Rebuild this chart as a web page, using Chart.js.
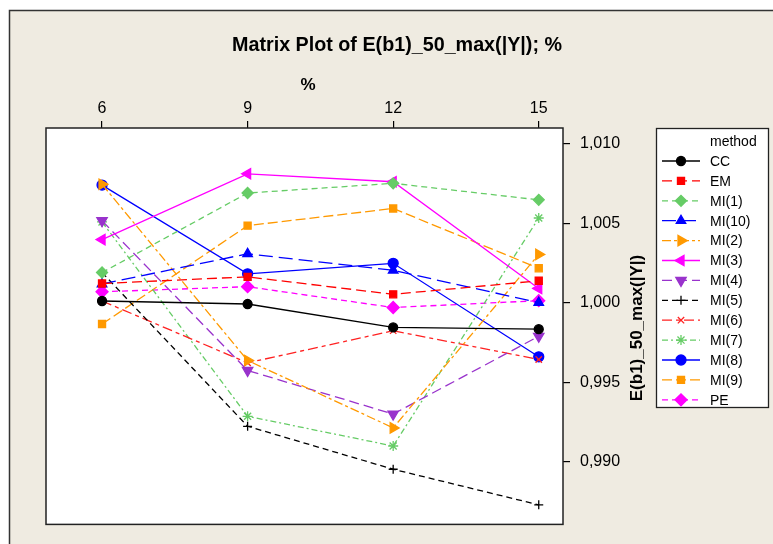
<!DOCTYPE html>
<html>
<head>
<meta charset="utf-8">
<script src="https://cdn.jsdelivr.net/npm/chart.js@4.4.1/dist/chart.umd.min.js"></script>
<style>
  body { margin: 0; background: #fff; }
  #wrap { width: 773px; height: 544px; }
</style>
</head>
<body>
<div id="wrap"><canvas id="chart" width="773" height="544"></canvas></div>
<script>
// x categories (%), y ticks and one series per method
const percents = [6, 9, 12, 15];
const yTicks = [0.990, 0.995, 1.000, 1.005, 1.010];
const methods = ['CC', 'EM', 'MI(1)', 'MI(10)', 'MI(2)', 'MI(3)', 'MI(4)', 'MI(5)', 'MI(6)', 'MI(7)', 'MI(8)', 'MI(9)', 'PE'];

const cc   = [1.00012, 0.99993, 0.99846, 0.99835];
const em   = [1.00122, 1.00164, 1.00054, 1.00139];
const mi1  = [1.00191, 1.00691, 1.00752, 1.00648];
const mi10 = [1.00119, 1.00309, 1.00205, 1.00002];
const mi2  = [1.00746, 0.99638, 0.99214, 1.00305];
const mi3  = [1.00398, 1.00812, 1.00762, 1.00091];
const mi4  = [1.00517, 0.99575, 0.99301, 0.99790];
const mi5  = [1.00191, 0.99224, 0.98954, 0.98730];
const mi6  = [1.00012, 0.99623, 0.99825, 0.99644];
const mi7  = [1.00509, 0.99287, 0.99100, 1.00534];
const mi8  = [1.00741, 1.00183, 1.00249, 0.99661];
const mi9  = [0.99867, 1.00486, 1.00594, 1.00218];
const pe   = [1.00070, 1.00102, 0.99971, 1.00014];

const series = [cc, em, mi1, mi10, mi2, mi3, mi4, mi5, mi6, mi7, mi8, mi9, pe];

// line / marker look for each method, same order as methods
const looks = [
  { color: '#000000', dash: [],            point: 'circle',   r: 4.5 },
  { color: '#FF0000', dash: [10, 5],       point: 'rect',     r: 5 },
  { color: '#66CC66', dash: [6, 4],        point: 'rectRot',  r: 5.5 },
  { color: '#0000FF', dash: [14, 6],       point: 'triangle', r: 5.5 },
  { color: '#FF9900', dash: [9, 3, 3, 3],  point: 'triangle', r: 6, rot: 90 },
  { color: '#FF00FF', dash: [],            point: 'triangle', r: 6, rot: -90 },
  { color: '#9933CC', dash: [10, 5],       point: 'triangle', r: 6, rot: 180 },
  { color: '#000000', dash: [6, 4],        point: 'cross',    r: 4.5 },
  { color: '#FF2222', dash: [10, 4, 4, 4], point: 'crossRot', r: 4.5 },
  { color: '#66CC66', dash: [6, 3, 2, 3],  point: 'star',     r: 5 },
  { color: '#0000FF', dash: [],            point: 'circle',   r: 5 },
  { color: '#FF9900', dash: [10, 4],       point: 'rect',     r: 5 },
  { color: '#FF00FF', dash: [6, 4],        point: 'rectRot',  r: 6 }
];

const FONT = "'Liberation Sans', Arial, Helvetica, sans-serif";

const datasets = methods.map((m, i) => ({
  label: m,
  data: series[i].map((v, j) => ({ x: percents[j], y: v })),
  borderColor: looks[i].color,
  backgroundColor: looks[i].color,
  borderWidth: 1.3,
  borderDash: looks[i].dash,
  pointStyle: looks[i].point,
  pointRadius: looks[i].r,
  pointRotation: looks[i].rot || 0,
  pointBorderWidth: 1.3,
  pointBackgroundColor: looks[i].color,
  pointBorderColor: looks[i].color,
  tension: 0
}));

// text squeezed to a given width if it runs wider
function fitText(ctx, text, x, y, maxW, angle) {
  const w = ctx.measureText(text).width;
  const sx = w > maxW ? maxW / w : 1;
  ctx.save();
  ctx.translate(x, y);
  if (angle) ctx.rotate(angle);
  ctx.scale(sx, 1);
  ctx.fillText(text, 0, 0);
  ctx.restore();
}

const framePlugin = {
  id: 'frame',
  beforeDraw(chart) {
    const { ctx, chartArea: a, width, height } = chart;
    ctx.save();
    ctx.fillStyle = '#ffffff';
    ctx.fillRect(0, 0, width, height);
    ctx.fillStyle = '#EFEBE1';
    ctx.fillRect(9, 10, width, height);
    ctx.strokeStyle = '#333333';
    ctx.lineWidth = 1.5;
    ctx.strokeRect(9.5, 10.5, width + 10, height + 10);
    ctx.fillStyle = '#ffffff';
    ctx.fillRect(a.left, a.top, a.right - a.left, a.bottom - a.top);
    ctx.restore();
  },
  afterDraw(chart) {
    const { ctx, chartArea: a } = chart;
    ctx.save();
    // plot box
    ctx.strokeStyle = '#222222';
    ctx.lineWidth = 1.5;
    ctx.strokeRect(a.left, a.top, a.right - a.left, a.bottom - a.top);

    // titles
    ctx.fillStyle = '#000';
    ctx.textAlign = 'center';
    ctx.textBaseline = 'middle';
    ctx.font = 'bold 20px ' + FONT;
    fitText(ctx, 'Matrix Plot of E(b1)_50_max(|Y|); %', 397, 45, 330);
    ctx.font = 'bold 17px ' + FONT;
    fitText(ctx, '%', 308, 85, 40);
    ctx.font = 'bold 17px ' + FONT;
    fitText(ctx, 'E(b1)_50_max(|Y|)', 637, 328, 154, -Math.PI / 2);

    // legend box
    const lx = 656, ly = 128, lw = 112, lh = 279;
    ctx.fillStyle = '#ffffff';
    ctx.fillRect(lx, ly, lw, lh);
    ctx.strokeStyle = '#222222';
    ctx.lineWidth = 1.3;
    ctx.strokeRect(lx + 0.5, ly + 0.5, lw, lh);
    ctx.fillStyle = '#000';
    ctx.textAlign = 'left';
    ctx.font = '14px ' + FONT;
    ctx.fillText('method', 710, 142);
    chart.data.datasets.forEach((ds, i) => {
      const y = 161 + i * 19.9;
      ctx.save();
      ctx.strokeStyle = ds.borderColor;
      ctx.lineWidth = 1.3;
      ctx.setLineDash(ds.borderDash);
      ctx.beginPath();
      ctx.moveTo(662, y);
      ctx.lineTo(700, y);
      ctx.stroke();
      ctx.setLineDash([]);
      ctx.fillStyle = ds.borderColor;
      Chart.helpers.drawPoint(ctx, {
        pointStyle: ds.pointStyle,
        radius: ds.pointRadius,
        rotation: ds.pointRotation,
        borderWidth: 1.3
      }, 681, y);
      ctx.restore();
      ctx.fillStyle = '#000';
      ctx.fillText(ds.label, 710, y + 1);
    });
    ctx.restore();
  }
};

const ctx = document.querySelector('#chart').getContext('2d');
new Chart(ctx, {
  type: 'line',
  data: { datasets },
  options: {
    responsive: false,
    animation: false,
    layout: { padding: { left: 46, top: 88, right: 110, bottom: 16 } },
    plugins: {
      legend: { display: false },
      tooltip: { enabled: false }
    },
    scales: {
      x: {
        type: 'linear',
        position: 'top',
        min: 4.845,
        max: 15.5,
        afterBuildTicks: s => { s.ticks = percents.map(v => ({ value: v })); },
        afterFit: s => { s.height = 40; },
        grid: { drawOnChartArea: false, drawTicks: true, tickLength: 7, color: '#000', lineWidth: 1.2 },
        border: { display: false },
        ticks: { color: '#000', font: { family: FONT, size: 16 }, padding: 3, maxRotation: 0 }
      },
      y: {
        position: 'right',
        min: 0.98607,
        max: 1.011,
        afterBuildTicks: s => { s.ticks = yTicks.map(v => ({ value: v })); },
        afterFit: s => { s.width = 100; },
        grid: { drawOnChartArea: false, drawTicks: true, tickLength: 7, color: '#000', lineWidth: 1.2 },
        border: { display: false },
        ticks: {
          color: '#000',
          font: { family: FONT, size: 16 },
          padding: 10,
          callback: v => v.toFixed(3).replace('.', ',')
        }
      }
    }
  },
  plugins: [framePlugin]
});
</script>
</body>
</html>
